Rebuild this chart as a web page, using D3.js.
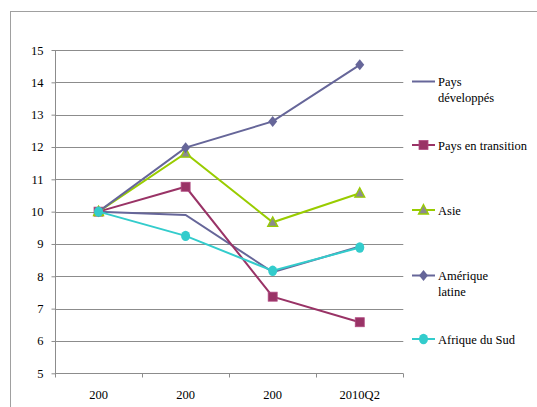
<!DOCTYPE html>
<html>
<head>
<meta charset="utf-8">
<script src="https://cdn.jsdelivr.net/npm/d3@7/dist/d3.min.js"></script>
<style>
  html, body { margin: 0; padding: 0; background: #fff; }
  svg { display: block; }
</style>
</head>
<body>
<script>
// Periods on the horizontal axis
const periods = ["p1", "p2", "p3", "p4"];
const periodLabels = ["200", "200", "200", "2010Q2"];

// Index values per region (first period = 10)
const paysDeveloppes   = [10, 9.9, 8.13, 8.92];
const paysTransition   = [10, 10.77, 7.37, 6.58];
const asie             = [10, 11.81, 9.67, 10.57];
const ameriqueLatine   = [10, 11.98, 12.79, 14.54];
const afriqueDuSud     = [10, 9.25, 8.17, 8.89];

const yTicks = [5, 6, 7, 8, 9, 10, 11, 12, 13, 14, 15];

const series = [
  { name: ["Pays", "développés"], values: paysDeveloppes, color: "#666699", marker: null },
  { name: ["Pays en transition"], values: paysTransition, color: "#993366", marker: "square" },
  { name: ["Asie"], values: asie, color: "#99CC00", marker: "triangle" },
  { name: ["Amérique", "latine"], values: ameriqueLatine, color: "#666699", marker: "diamond" },
  { name: ["Afrique du Sud"], values: afriqueDuSud, color: "#33CCCC", marker: "circle" }
];

const FONT = "'Times New Roman', Tinos, 'Liberation Serif', 'Noto Serif', 'DejaVu Serif', serif";
const FS = "12.5px";
const W = 537, H = 407;
const plot = { left: 55, right: 403.3, top: 50, bottom: 373.3 };

const svg = d3.select("body").append("svg").attr("width", W).attr("height", H);

// Outer chart frame
svg.append("rect")
  .attr("x", 10.5).attr("y", 11.5)
  .attr("width", W + 20).attr("height", H + 20)
  .attr("fill", "none").attr("stroke", "#a0a0a0").attr("stroke-width", 1);

const x = d3.scaleBand().domain(periods).range([plot.left, plot.right]);
const y = d3.scaleLinear().domain([5, 15]).range([plot.bottom, plot.top]);

// Horizontal gridlines
svg.append("g").selectAll("line").data(yTicks.filter(d => d !== 5)).join("line")
  .attr("x1", plot.left).attr("x2", plot.right)
  .attr("y1", d => Math.round(y(d)) + 0.5).attr("y2", d => Math.round(y(d)) + 0.5)
  .attr("stroke", "#8c8c8c").attr("stroke-width", 1);

// Y axis
const yAxis = svg.append("g")
  .attr("transform", `translate(${plot.left + 0.5},0)`)
  .call(d3.axisLeft(y).tickValues(yTicks).tickSize(4).tickPadding(8).tickFormat(d3.format("d")));
yAxis.attr("font-family", null).attr("font-size", null);
yAxis.select(".domain").attr("stroke", "#8c8c8c").attr("d", `M0,${plot.top}V${plot.bottom}`);
yAxis.selectAll(".tick line").attr("stroke", "#8c8c8c");
yAxis.selectAll(".tick text").style("font-size", FS).style("font-family", FONT).attr("fill", "#000");

// X axis with ticks on band boundaries
const xAxisG = svg.append("g").attr("transform", `translate(0,${Math.round(plot.bottom) + 0.5})`);
xAxisG.append("line")
  .attr("x1", plot.left).attr("x2", plot.right)
  .attr("stroke", "#8c8c8c");
const bounds = periods.map(p => x(p)).concat([x(periods[periods.length - 1]) + x.bandwidth()]);
xAxisG.selectAll("line.tk").data(bounds).join("line").attr("class", "tk")
  .attr("x1", d => Math.round(d) + 0.5).attr("x2", d => Math.round(d) + 0.5)
  .attr("y1", 0).attr("y2", 4).attr("stroke", "#8c8c8c");
xAxisG.selectAll("text").data(periods).join("text")
  .attr("x", d => x(d) + x.bandwidth() / 2)
  .attr("y", 25)
  .attr("text-anchor", "middle")
  .style("font-size", FS).style("font-family", FONT)
  .text((d, i) => periodLabels[i]);

const cx = p => x(p) + x.bandwidth() / 2;

// Marker shapes
function drawMarker(g, type, color, px, py) {
  if (type === "square") {
    g.append("rect").attr("x", px - 4.5).attr("y", py - 4.5).attr("width", 9).attr("height", 9)
      .attr("fill", color).attr("stroke", "#b04a80").attr("stroke-width", 0.8);
  } else if (type === "triangle") {
    g.append("path").attr("d", `M${px},${py - 5.5}L${px + 5},${py + 4}L${px - 5},${py + 4}Z`)
      .attr("fill", "#8c8c8c").attr("stroke", "#99CC00").attr("stroke-width", 1.3);
  } else if (type === "diamond") {
    g.append("path").attr("d", `M${px},${py - 5.5}L${px + 4.5},${py}L${px},${py + 5.5}L${px - 4.5},${py}Z`)
      .attr("fill", color);
  } else if (type === "circle") {
    g.append("ellipse").attr("cx", px).attr("cy", py).attr("rx", 4.5).attr("ry", 5.2)
      .attr("fill", color);
  }
}

const line = d3.line().x((d, i) => cx(periods[i])).y(d => y(d));

series.forEach(s => {
  const g = svg.append("g");
  g.append("path").datum(s.values).attr("d", line)
    .attr("fill", "none").attr("stroke", s.color).attr("stroke-width", 2);
  if (s.marker) {
    s.values.forEach((v, i) => drawMarker(g, s.marker, s.color, cx(periods[i]), y(v)));
  }
});

// Legend
const legendY = [81.5, 145, 210, 275.5, 339];
const lg = svg.append("g");
series.forEach((s, i) => {
  const ly = legendY[i];
  lg.append("line").attr("x1", 412).attr("x2", 435).attr("y1", ly).attr("y2", ly)
    .attr("stroke", s.color).attr("stroke-width", 2);
  if (s.marker) drawMarker(lg, s.marker, s.color, 423.5, ly);
  s.name.forEach((t, j) => {
    lg.append("text").attr("x", 438).attr("y", ly + 4.5 + j * 15.5)
      .style("font-size", FS).style("font-family", FONT).text(t);
  });
});
</script>
</body>
</html>
